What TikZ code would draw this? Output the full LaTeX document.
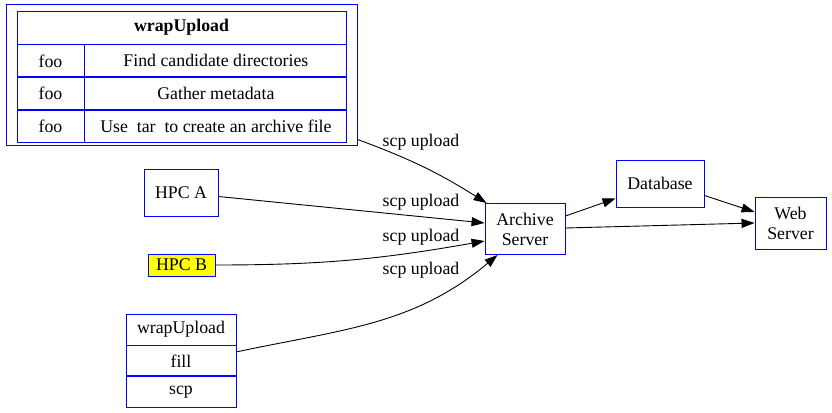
\documentclass[tikz,border=0pt]{standalone}
\usepackage{fontspec}
\setmainfont{Liberation Serif}
\usetikzlibrary{arrows.meta, positioning}
\definecolor{nodeblue}{RGB}{0,0,255}
\definecolor{hpcyellow}{RGB}{255,255,0}

\begin{document}
\begin{tikzpicture}[
    x=1pt, y=-1pt,
    box/.style={rectangle, draw=nodeblue, line width=0.9pt, inner sep=0pt, align=center, font=\fontsize{17.8}{20}\selectfont},
    cell/.style={box, minimum height=32pt},
    lbl/.style={inner sep=0pt, font=\fontsize{17.8}{20}\selectfont},
    arrow/.style={-{Triangle[length=13pt, width=9pt]}, line width=0.9pt, color=black}
]
\useasboundingbox (0,0) rectangle (832,412);
% wrapUpload table
\node[box, minimum width=351pt, minimum height=141pt] (upload) at (181.5,74.5) {};
\node[box, minimum width=329pt, minimum height=33pt, font=\fontsize{17.8}{20}\selectfont\bfseries] (head) at (181.5,27.5) {wrapUpload};
\node[cell, minimum width=67pt, anchor=north west] (foo1) at (head.south west) {foo};
\node[cell, minimum width=262pt, right=0pt of foo1] (find) {Find candidate directories};
\node[cell, minimum width=67pt, below=0pt of foo1] (foo2) {foo};
\node[cell, minimum width=262pt, right=0pt of foo2] (gather) {Gather metadata};
\node[cell, minimum width=67pt, below=0pt of foo2] (foo3) {foo};
\node[cell, minimum width=262pt, right=0pt of foo3] (tar) {Use\ \ tar\ \ to create an archive file};
% sources
\node[box, minimum width=74pt, minimum height=47pt] (hpca) at (181,192.5) {HPC A};
\node[box, minimum width=67pt, minimum height=22pt, fill=hpcyellow] (hpcb) at (181.5,265) {HPC B};
\node[box, minimum width=110pt, minimum height=31pt] (wrap) at (181,329.5) {wrapUpload};
\node[box, minimum width=110pt, minimum height=30pt, below=0pt of wrap] (fill) {fill};
\node[box, minimum width=110pt, minimum height=31pt, below=0pt of fill] (scp) {scp};
% servers
\node[box, minimum width=80pt, minimum height=51pt] (archive) at (525,229) {Archive\\Server};
\node[box, minimum width=88pt, minimum height=47pt] (db) at (660,183.5) {Database};
\node[box, minimum width=71pt, minimum height=52pt] (web) at (790.5,223) {Web\\Server};
% labels
\node[lbl] (l1) at (421,142) {scp upload};
\node[lbl] (l2) at (421,202) {scp upload};
\node[lbl] (l3) at (421,237) {scp upload};
\node[lbl] (l4) at (421,270) {scp upload};
\draw[arrow] ([yshift=6pt]upload.south east) to[bend left=6] ([xshift=2pt]archive.north west);
\draw[arrow] ([yshift=-4pt]hpca.east) -- ([yshift=6pt]archive.west);
\draw[arrow] (hpcb.east) to[out=0, in=190] ([yshift=-12pt]archive.west);
\draw[arrow] ([yshift=9pt]fill.east) to[out=12, in=-140] ([xshift=13pt]archive.south west);
\draw[arrow] ([yshift=13pt]archive.east) -- ([yshift=-15pt]db.west);
\draw[arrow] ([yshift=1pt]archive.east) -- (web.west);
\draw[arrow] ([yshift=-12pt]db.east) -- ([yshift=11pt]web.west);
\end{tikzpicture}
\end{document}
